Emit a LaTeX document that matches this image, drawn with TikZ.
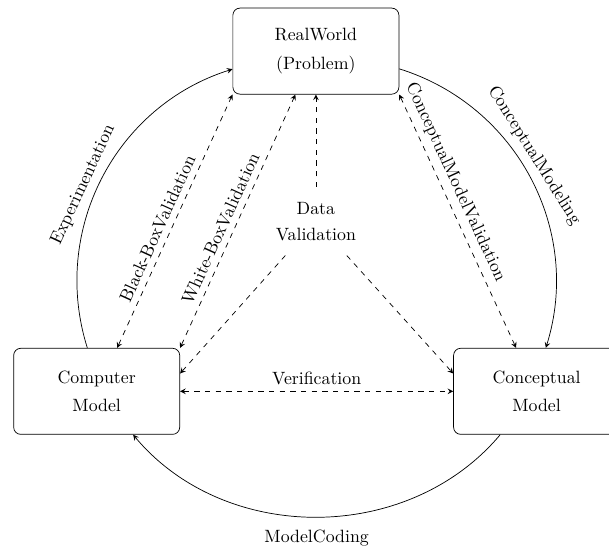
\documentclass[tikz,border=0pt]{standalone}
\usepackage{amsmath, amssymb}
\usepackage{tikz}
\usetikzlibrary{positioning}

\begin{document}
\begin{tikzpicture}[
        >=stealth,
        box/.style={rectangle,draw,rounded corners,align=center,minimum width=3.28cm,minimum height=1.70cm},
        val/.style={dashed,<->},
      ]
      \useasboundingbox (0,0) rectangle (12.03,-10.77);

      % Real world
      \node[box] (real) at (6.24,-1.01) {RealWorld\\[4pt](Problem)};

      % Computer model and conceptual model
      \node[box] (computer) at (1.91,-7.73) {Computer\\[4pt]Model};
      \node[box] (conceptual) at (10.60,-7.73) {Conceptual\\[4pt]Model};

      % Data validation
      \node[align=center,minimum height=1.34cm] (data) at (6.24,-4.37) {Data\\[2.5pt]Validation};

      % Cycle
      \draw[->] (computer) to[bend left=45] node[sloped, above, pos=0.47, xshift=-2pt] {Experimentation} (real);
      \draw[->] (real) to[bend left=45] node[sloped, above, pos=0.45] {ConceptualModeling} (conceptual);
      \draw[->] (conceptual) to[bend left=50] node[below=3.5pt] {ModelCoding} (computer);

      % Validation
      \draw[val] ([xshift=11.5pt]computer.north) -- node[sloped, above, pos=0.45] {Black-BoxValidation} (real.south west);
      \draw[val] (computer.north east) -- node[sloped, above, pos=0.45] {White-BoxValidation} ([xshift=-11.5pt]real.south);
      \draw[val] (real.south east) -- node[sloped, above, pos=0.37] {ConceptualModelValidation} ([xshift=-11.5pt]conceptual.north);
      \draw[dashed,->] (data) -- (real);
      \draw[dashed,->] (data) -- ([yshift=10pt]computer.east);
      \draw[dashed,->] (data) -- ([yshift=10pt]conceptual.west);

      % Verification
      \draw[val] (computer) -- node[above] {Verification} (conceptual);
    \end{tikzpicture}
\end{document}
